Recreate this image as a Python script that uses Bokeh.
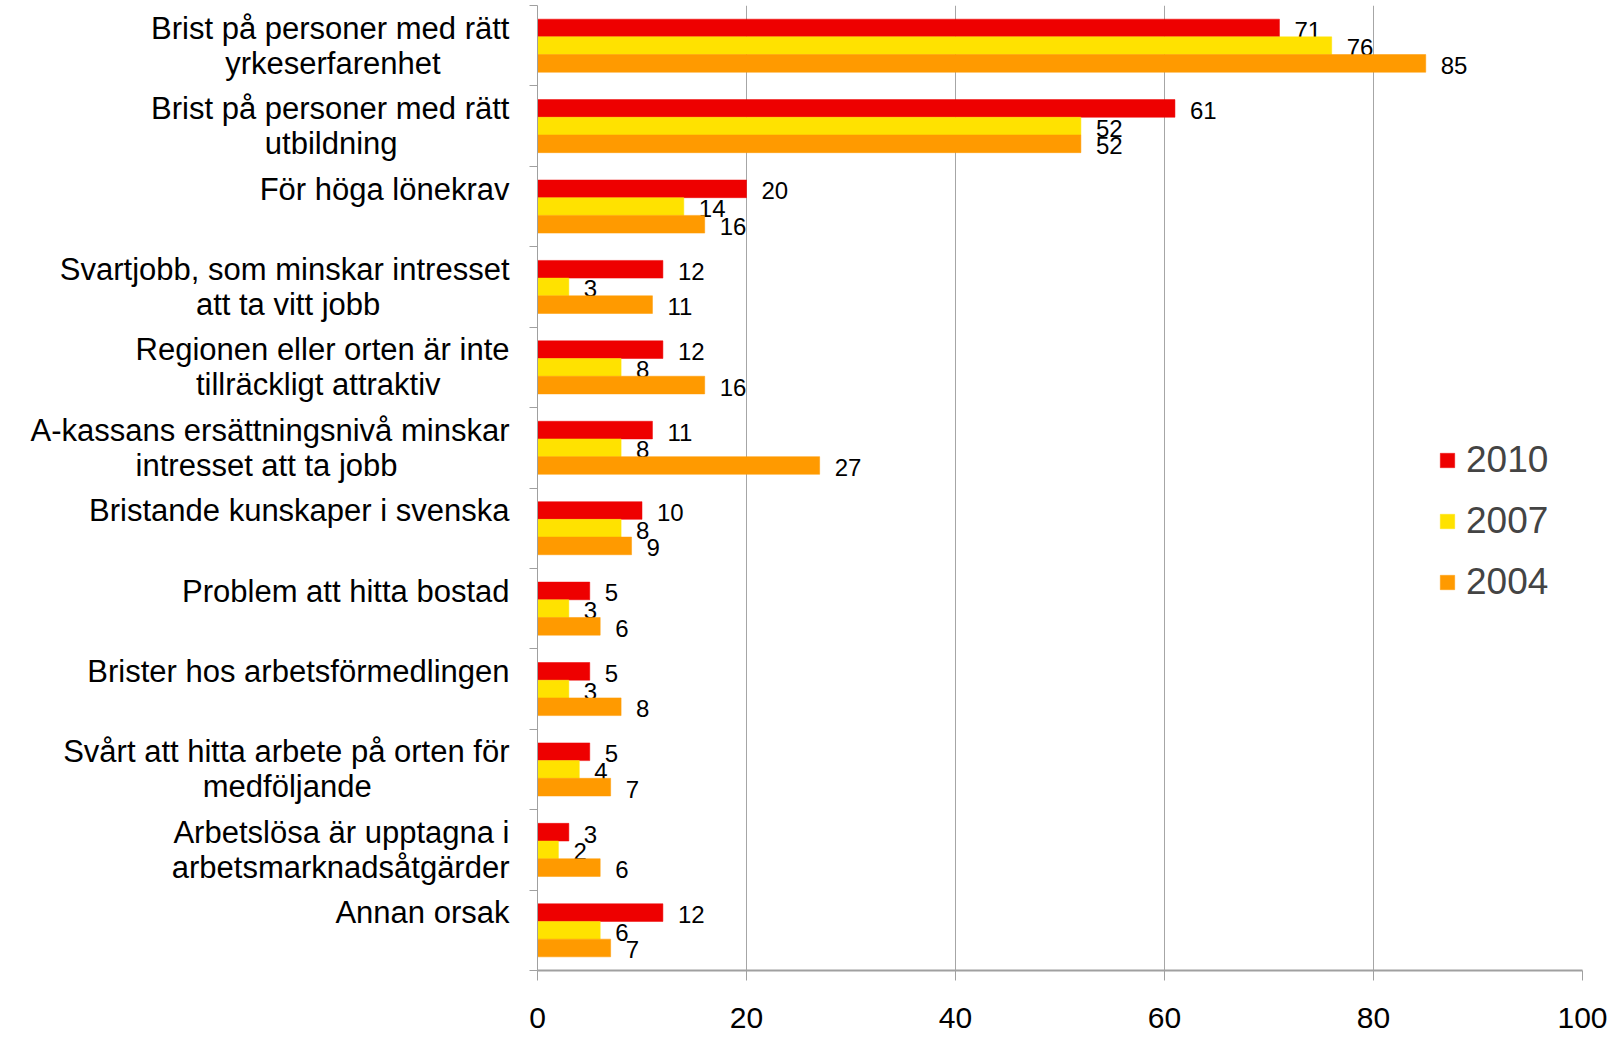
from bokeh.plotting import figure
from bokeh.models import (ColumnDataSource, Range1d, Legend, LegendItem,
                          FixedTicker, LinearAxis)
from bokeh.embed import file_html
from bokeh.resources import INLINE
from bokeh.core.properties import value

category_lines = [
    ["Brist på personer med rätt", "yrkeserfarenhet"],
    ["Brist på personer med rätt", "utbildning"],
    ["För höga lönekrav"],
    ["Svartjobb, som minskar intresset", "att ta vitt jobb"],
    ["Regionen eller orten är inte", "tillräckligt attraktiv"],
    ["A-kassans ersättningsnivå minskar", "intresset att ta jobb"],
    ["Bristande kunskaper i svenska"],
    ["Problem att hitta bostad"],
    ["Brister hos arbetsförmedlingen"],
    ["Svårt att hitta arbete på orten för", "medföljande"],
    ["Arbetslösa är upptagna i", "arbetsmarknadsåtgärder"],
    ["Annan orsak"],
]
v2010 = [71, 61, 20, 12, 12, 11, 10, 5, 5, 5, 3, 12]
v2007 = [76, 52, 14, 3, 8, 8, 8, 3, 3, 4, 2, 6]
v2004 = [85, 52, 16, 11, 16, 27, 9, 6, 8, 7, 6, 7]
series_names = ["2010", "2007", "2004"]
colors = ["#EE0000", "#FFE200", "#FF9A00"]
x_ticks = [0, 20, 40, 60, 80, 100]

FONT = "Liberation Sans"

# Arial / Liberation Sans advance widths (per 1000 em) used to centre the lines of a label
_W = dict(zip("abcdefghijklmnopqrstuvwxyz",
              [556, 556, 500, 556, 556, 278, 556, 556, 222, 222, 500, 222, 833,
               556, 556, 556, 556, 333, 500, 278, 556, 500, 722, 500, 500, 500]))
_W.update({"A": 667, "B": 667, "F": 611, "P": 667, "R": 722, "S": 667,
           "å": 556, "ä": 556, "ö": 556, ",": 278, "-": 333, " ": 278})
NBSP = "\u00a0"


def _width(s):
    return sum(_W.get(c, 556) for c in s)


def centred_label(lines):
    if len(lines) == 1:
        return lines[0] + "\n" + NBSP
    w = max(_width(l) for l in lines)
    out = []
    for l in lines:
        k = int(round((w - _width(l)) / 2 / 278))
        out.append(l + NBSP * k)
    return "\n".join(out)


n = len(category_lines)
# category i (top to bottom) occupies the band [n-i-1, n-i] on the y scale
centres = [n - i - 0.5 for i in range(n)]
labels = [centred_label(l) for l in category_lines]

p = figure(width=1614, height=1037, output_backend="svg", toolbar_location=None,
           x_range=Range1d(0, 100), y_range=Range1d(0, n),
           min_border_left=537, min_border_right=32, min_border_top=5, min_border_bottom=67)
p.outline_line_color = None

offsets = [0.22, 0.0, -0.22]
items = []
for name, vals, col, off in zip(series_names, [v2010, v2007, v2004], colors, offsets):
    src = ColumnDataSource(dict(y=[c + off for c in centres], val=vals,
                                lab=[str(v) for v in vals]))
    r = p.hbar(y="y", right="val", left=0, height=0.22,
               source=src, fill_color=col, line_color=col, line_width=0.5)
    p.text(x="val", y="y", text="lab", source=src,
           x_offset=15, y_offset=2, text_align="left", text_baseline="middle",
           text_font=value(FONT), text_font_size="24px", text_color="#000000")
    items.append(LegendItem(label=name, renderers=[r]))

legend = Legend(items=items, location=(901, 367), border_line_color=None,
                background_fill_alpha=0, label_text_font=FONT, label_text_font_size="37px",
                glyph_width=18, glyph_height=18, spacing=19, padding=10, label_standoff=10)
p.add_layout(legend)

# grid
p.ygrid.grid_line_color = None
p.xgrid.grid_line_color = "#A6A6A6"
p.xgrid.grid_line_width = 1
p.xaxis.ticker = FixedTicker(ticks=x_ticks)

# x axis
p.xaxis.axis_line_color = "#A0A0A0"
p.xaxis.axis_line_width = 2
p.xaxis.major_tick_line_color = "#A0A0A0"
p.xaxis.major_tick_out = 10
p.xaxis.major_tick_in = 0
p.xaxis.minor_tick_line_color = None
p.xaxis.major_label_text_font = FONT
p.xaxis.major_label_text_font_size = "30px"
p.xaxis.major_label_text_color = "#000000"
p.xaxis.major_label_standoff = 27

# inner y axis: line and ticks at the category boundaries, no labels
yb = p.yaxis[0]
yb.ticker = FixedTicker(ticks=list(range(n + 1)))
yb.axis_line_color = "#A0A0A0"
yb.major_tick_line_color = "#A0A0A0"
yb.major_tick_out = 8
yb.major_tick_in = 0
yb.minor_tick_line_color = None
yb.major_label_text_font_size = "1px"
yb.major_label_text_alpha = 0
yb.major_label_standoff = 0

# outer y axis: category labels
ya = LinearAxis(ticker=FixedTicker(ticks=centres),
                major_label_overrides={c: l for c, l in zip(centres, labels)},
                axis_line_color=None, major_tick_line_color=None, minor_tick_line_color=None,
                major_label_text_font=FONT, major_label_text_font_size="31px",
                major_label_text_line_height=1.0,
                major_label_text_color="#000000", major_label_standoff=14)
p.add_layout(ya, "left")

open("out.html", "w").write(file_html(p, INLINE))
